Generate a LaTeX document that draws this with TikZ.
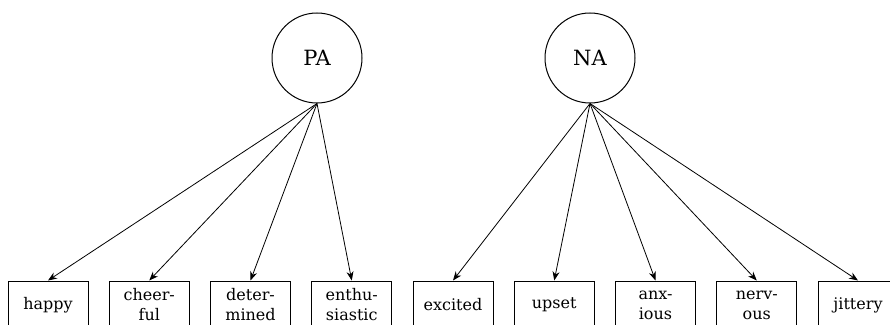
\documentclass[tikz,border=0pt]{standalone}
\usepackage{fontspec}
\setmainfont{DejaVu Serif}
\usetikzlibrary{arrows.meta}
\begin{document}
\begin{tikzpicture}[x=1pt,y=1pt,
  latent/.style={draw, circle, minimum size=90pt, inner sep=0pt, line width=1pt, font=\fontsize{21}{24}\selectfont},
  item/.style={draw, rectangle, minimum width=80pt, minimum height=48pt, inner sep=0pt, line width=1pt, align=center, font=\fontsize{16}{20}\selectfont},
  load/.style={-{Stealth[length=9pt,width=7pt]}, line width=0.8pt}]
\useasboundingbox (0,0) rectangle (890,324);
\node[latent] (PA) at (317,266) {PA};
\node[latent] (NA) at (590,266) {NA};
\node[item] (i1) at (48,19) {happy};
\node[item] (i2) at (149.25,19) {cheer-\\ful};
\node[item] (i3) at (250.5,19) {deter-\\mined};
\node[item] (i4) at (351.75,19) {enthu-\\siastic};
\node[item] (i5) at (453,19) {excited};
\node[item] (i6) at (554.25,19) {upset};
\node[item] (i7) at (655.5,19) {anx-\\ious};
\node[item] (i8) at (756.75,19) {nerv-\\ous};
\node[item] (i9) at (858,19) {jittery};
\foreach \i in {1,2,3,4} \draw[load] (PA.south) -- (i\i.north);
\foreach \i in {5,6,7,8,9} \draw[load] (NA.south) -- (i\i.north);
\end{tikzpicture}
\end{document}
